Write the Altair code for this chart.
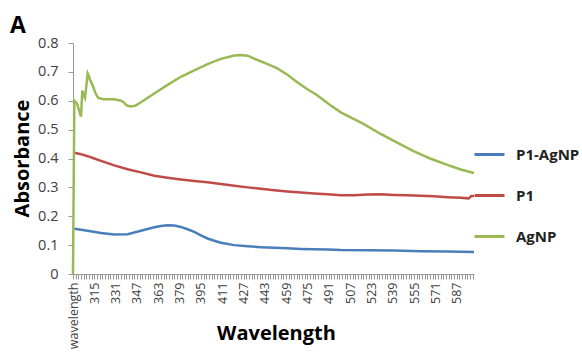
import altair as alt
import pandas as pd

# Category axis (Excel line chart: first row header "wavelength", then 300..600 nm)
categories = ["wavelength"] + [str(w) for w in range(300, 601)]
tick_cats = categories[0::2]

series_names = ["P1-AgNP", "P1", "AgNP"]
series_colors = ["#4A7EBB", "#BE4B48", "#98B954"]

# P1-AgNP (blue)
blue_w = ["300", "310", "320", "330", "340", "350", "360", "365", "370", "375", "380", "385",
          "390", "395", "400", "405", "410", "420", "430", "440", "450", "460", "470", "480",
          "490", "500", "520", "540", "560", "580", "600"]
blue_v = [0.157, 0.150, 0.142, 0.137, 0.138, 0.150, 0.162, 0.166, 0.169, 0.168, 0.163, 0.155,
          0.146, 0.134, 0.123, 0.115, 0.108, 0.100, 0.096, 0.093, 0.091, 0.089, 0.087, 0.086,
          0.085, 0.083, 0.082, 0.081, 0.079, 0.078, 0.076]

# P1 (red)
red_w = ["300", "305", "310", "315", "320", "330", "340", "350", "360", "370", "380", "390",
         "400", "410", "420", "430", "440", "450", "460", "470", "480", "490", "500", "510",
         "520", "530", "540", "550", "560", "570", "580", "590", "596", "598", "600"]
red_v = [0.420, 0.415, 0.408, 0.400, 0.392, 0.376, 0.363, 0.352, 0.340, 0.333, 0.327, 0.322,
         0.318, 0.312, 0.306, 0.300, 0.295, 0.290, 0.286, 0.282, 0.279, 0.276, 0.273, 0.273,
         0.275, 0.276, 0.274, 0.273, 0.271, 0.269, 0.266, 0.264, 0.262, 0.270, 0.270]

# AgNP (green)
green_w = ["wavelength", "300", "301", "302", "303", "304", "305", "306", "307", "308", "309",
           "310", "311", "312", "314", "316", "318", "322", "330", "335", "337", "339", "342",
           "346", "350", "360", "370", "380", "390", "400", "410", "420", "425", "430", "437",
           "445", "452", "460", "467", "475", "482", "492", "500", "517", "530", "543", "555",
           "567", "580", "590", "600"]
green_v = [0.0, 0.600, 0.595, 0.590, 0.575, 0.560, 0.545, 0.635, 0.620, 0.610, 0.650,
           0.695, 0.685, 0.670, 0.650, 0.625, 0.610, 0.605, 0.605, 0.600, 0.595, 0.585, 0.580,
           0.583, 0.595, 0.625, 0.655, 0.683, 0.705, 0.727, 0.745, 0.757, 0.758, 0.756, 0.742,
           0.727, 0.713, 0.690, 0.665, 0.640, 0.620, 0.585, 0.560, 0.520, 0.485, 0.453, 0.425,
           0.400, 0.378, 0.362, 0.350]

rows = []
for name, ws, vs in [("P1-AgNP", blue_w, blue_v), ("P1", red_w, red_v), ("AgNP", green_w, green_v)]:
    for w, v in zip(ws, vs):
        rows.append({"series": name, "cat": w, "val": v, "idx": categories.index(w)})
df = pd.DataFrame(rows)

FONT = "Open Sans"
label_expr = "datum.value == 'wavelength' || (toNumber(datum.value) - 299) % 16 == 0 ? datum.value : ''"

chart = alt.Chart(df).mark_line(strokeWidth=2.5).encode(
    x=alt.X("cat:O",
            scale=alt.Scale(type="point", domain=categories, padding=0),
            axis=alt.Axis(values=tick_cats, labelExpr=label_expr, labelAngle=-90,
                          labelOverlap=False, labelFontSize=12.5, labelColor="#404040",
                          labelFont=FONT, labelPadding=3,
                          tickSize=5, tickColor="#9a9a9a", domainColor="#9a9a9a",
                          title="Wavelength", titleFont=FONT, titleFontSize=20,
                          titleFontWeight="bold", titleColor="#000000",
                          titleX=203, titleY=59, titleAnchor="middle", titleBaseline="middle")),
    y=alt.Y("val:Q",
            scale=alt.Scale(domain=[0, 0.8]),
            axis=alt.Axis(values=[0, 0.1, 0.2, 0.3, 0.4, 0.5, 0.6, 0.7, 0.8], format=".1~f",
                          labelFontSize=14.5, labelColor="#404040", labelFont=FONT,
                          labelPadding=10, tickSize=5, tickColor="#9a9a9a", domainColor="#9a9a9a",
                          title="Absorbance", titleFont=FONT, titleFontSize=20,
                          titleFontWeight="bold", titleColor="#000000",
                          titleX=-51, titleY=115, titleAnchor="middle", titleBaseline="middle")),
    color=alt.Color("series:N",
                    scale=alt.Scale(domain=series_names, range=series_colors),
                    legend=alt.Legend(orient="none", legendX=400, legendY=95, title=None,
                                      symbolType="stroke", symbolSize=900, symbolStrokeWidth=3,
                                      labelFont=FONT, labelFontSize=15, labelFontWeight="bold",
                                      labelColor="#222222", labelOffset=10, rowPadding=16,
                                      padding=0)),
    order=alt.Order("idx:Q"),
).properties(
    width=401, height=231,
    title=alt.TitleParams("A", anchor="start", fontSize=23, fontWeight="bold", font=FONT,
                          color="#000000", dx=-2, dy=9, offset=6),
    autosize=alt.AutoSizeParams(type="none"),
    padding={"left": 73, "top": 43, "right": 108, "bottom": 85},
).configure_view(stroke=None).configure_axis(grid=False)

chart.save("out.html", embed_options={"renderer": "svg", "actions": False})
